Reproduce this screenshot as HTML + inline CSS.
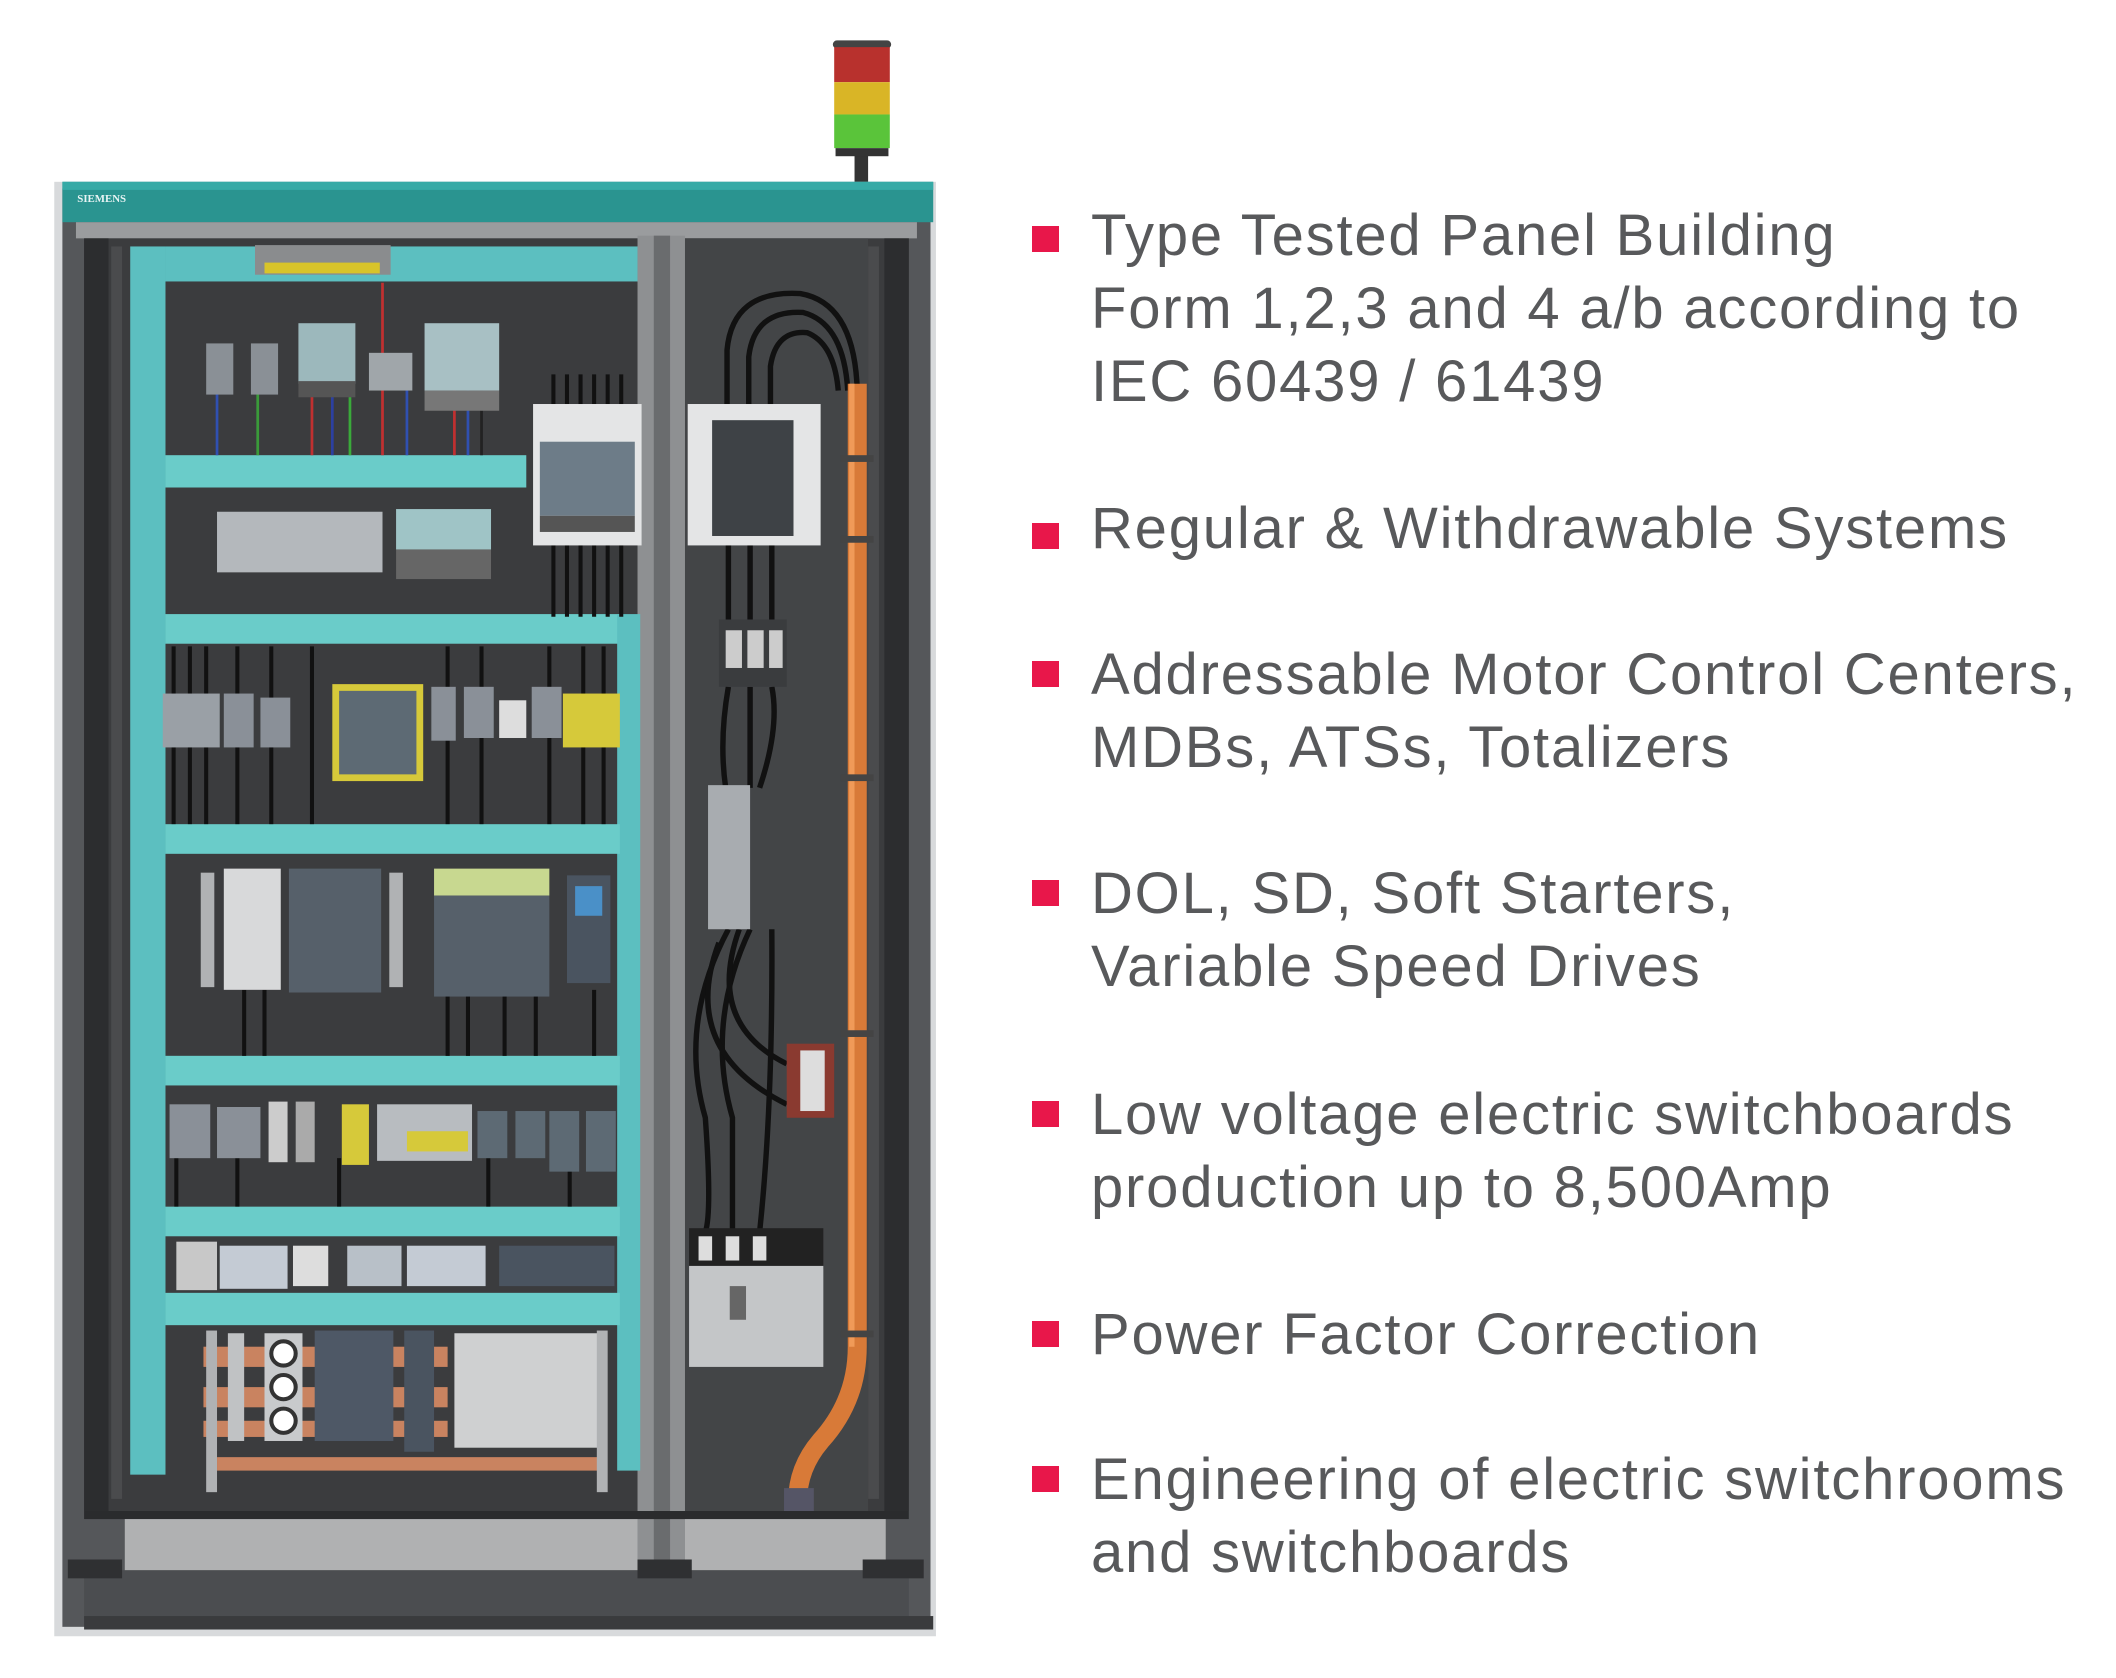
<!DOCTYPE html>
<html><head><meta charset="utf-8"><style>
html,body{margin:0;padding:0;background:#fff;}
body{width:2116px;height:1678px;position:relative;overflow:hidden;font-family:"Liberation Sans",sans-serif;}
svg{position:absolute;left:0;top:0;}
.b{position:absolute;left:1032px;width:27px;height:26px;background:#e8174a;}
.t{position:absolute;left:1091px;font-size:58px;color:#58595b;line-height:73px;white-space:nowrap;letter-spacing:1.8px;}
</style></head><body>
<svg width="2116" height="1678" viewBox="0 0 1560 1246" preserveAspectRatio="none">
<rect x="630" y="112" width="10" height="24" fill="#333"/>
<rect x="614" y="30" width="43" height="6" rx="3" fill="#444"/>
<rect x="615" y="35" width="41" height="26" fill="#b8312d"/>
<rect x="615" y="61" width="41" height="24" fill="#d9b526"/>
<rect x="615" y="85" width="41" height="25" fill="#5ac43a"/>
<rect x="616" y="110" width="39" height="6" fill="#333"/>
<rect x="40" y="135" width="650" height="1080" fill="#d8dadc"/>
<rect x="46" y="140" width="640" height="1068" fill="#55575a"/>
<rect x="46" y="135" width="642" height="30" fill="#2a9490"/>
<rect x="46" y="135" width="642" height="6" fill="#36aaa6"/>
<text x="57" y="150" font-size="8" fill="#e8f4f4" font-family="Liberation Serif" font-weight="bold">SIEMENS</text>
<rect x="56" y="165" width="620" height="12" fill="#9a9c9e"/>
<rect x="62" y="177" width="608" height="945" fill="#3b3c3e"/>
<rect x="62" y="177" width="18" height="945" fill="#2c2d2f"/>
<rect x="652" y="177" width="18" height="945" fill="#2c2d2f"/>
<rect x="82" y="183" width="8" height="930" fill="#4a4b4d"/>
<rect x="640" y="183" width="8" height="930" fill="#4a4b4d"/>
<rect x="470" y="175" width="35" height="990" fill="#8e9092"/>
<rect x="482" y="175" width="12" height="990" fill="#6a6c6e"/>
<rect x="505" y="177" width="135" height="945" fill="#434547"/>
<rect x="96" y="183" width="26" height="912" fill="#5cbfc0"/>
<rect x="122" y="183" width="348" height="26" fill="#5cbfc0"/>
<rect x="122" y="338" width="266" height="24" fill="#6accc9"/>
<rect x="122" y="456" width="335" height="22" fill="#6accc9"/>
<rect x="455" y="456" width="17" height="636" fill="#5cbfc0"/>
<rect x="122" y="612" width="335" height="22" fill="#6accc9"/>
<rect x="122" y="784" width="335" height="22" fill="#6accc9"/>
<rect x="122" y="896" width="335" height="22" fill="#6accc9"/>
<rect x="122" y="960" width="335" height="24" fill="#6accc9"/>
<rect x="188" y="182" width="100" height="22" fill="#8a8c8e"/>
<rect x="195" y="195" width="85" height="8" fill="#d8c42a"/>
<g stroke-width="2">
<line x1="160" y1="290" x2="160" y2="338" stroke="#3050b0"/><line x1="190" y1="290" x2="190" y2="338" stroke="#3a9a3a"/>
<line x1="230" y1="285" x2="230" y2="338" stroke="#c03030"/><line x1="245" y1="285" x2="245" y2="338" stroke="#2c40a0"/>
<line x1="258" y1="285" x2="258" y2="338" stroke="#3aaa3a"/><line x1="282" y1="210" x2="282" y2="338" stroke="#c03030"/>
<line x1="300" y1="285" x2="300" y2="338" stroke="#3050b0"/><line x1="335" y1="290" x2="335" y2="338" stroke="#c03030"/>
<line x1="345" y1="290" x2="345" y2="338" stroke="#3050b0"/><line x1="355" y1="290" x2="355" y2="338" stroke="#222"/>
</g>
<rect x="152" y="255" width="20" height="38" fill="#8a9096"/>
<rect x="185" y="255" width="20" height="38" fill="#8a9096"/>
<rect x="220" y="240" width="42" height="45" fill="#9cb8bc"/>
<rect x="220" y="283" width="42" height="12" fill="#555"/>
<rect x="272" y="262" width="32" height="28" fill="#a0a6aa"/>
<rect x="313" y="240" width="55" height="50" fill="#a8c0c4"/>
<rect x="313" y="290" width="55" height="15" fill="#777"/>
<rect x="160" y="380" width="122" height="45" fill="#b4b8bc"/>
<rect x="292" y="378" width="70" height="30" fill="#9fc4c6"/>
<rect x="292" y="408" width="70" height="22" fill="#666"/>
<g stroke="#111" stroke-width="3">
<line x1="408" y1="278" x2="408" y2="458"/><line x1="418" y1="278" x2="418" y2="458"/><line x1="428" y1="278" x2="428" y2="458"/>
<line x1="438" y1="278" x2="438" y2="458"/><line x1="448" y1="278" x2="448" y2="458"/><line x1="458" y1="278" x2="458" y2="458"/>
</g>
<rect x="393" y="300" width="80" height="105" fill="#e4e5e6"/>
<rect x="398" y="328" width="70" height="55" fill="#6d7c88"/>
<rect x="398" y="383" width="70" height="12" fill="#555"/>
<g stroke="#111" stroke-width="3">
<line x1="128" y1="480" x2="128" y2="612"/><line x1="140" y1="480" x2="140" y2="612"/><line x1="152" y1="480" x2="152" y2="612"/>
<line x1="175" y1="480" x2="175" y2="612"/><line x1="200" y1="480" x2="200" y2="612"/><line x1="230" y1="480" x2="230" y2="612"/>
<line x1="330" y1="480" x2="330" y2="612"/><line x1="355" y1="480" x2="355" y2="612"/><line x1="405" y1="480" x2="405" y2="612"/>
<line x1="430" y1="480" x2="430" y2="612"/><line x1="445" y1="480" x2="445" y2="612"/>
</g>
<rect x="120" y="515" width="42" height="40" fill="#9aa0a6"/>
<rect x="165" y="515" width="22" height="40" fill="#8a9098"/>
<rect x="192" y="518" width="22" height="37" fill="#8a9098"/>
<rect x="245" y="508" width="67" height="72" fill="#d6c93a"/>
<rect x="250" y="513" width="57" height="62" fill="#5d6a74"/>
<rect x="318" y="510" width="18" height="40" fill="#8a9098"/>
<rect x="342" y="510" width="22" height="38" fill="#8a9098"/>
<rect x="368" y="520" width="20" height="28" fill="#ddd"/>
<rect x="392" y="510" width="22" height="38" fill="#8a9098"/>
<rect x="415" y="515" width="42" height="40" fill="#d6c93a"/>
<g stroke="#111" stroke-width="3">
<line x1="180" y1="735" x2="180" y2="784"/><line x1="195" y1="735" x2="195" y2="784"/><line x1="330" y1="735" x2="330" y2="784"/>
<line x1="345" y1="735" x2="345" y2="784"/><line x1="372" y1="735" x2="372" y2="784"/><line x1="395" y1="735" x2="395" y2="784"/><line x1="438" y1="735" x2="438" y2="784"/>
</g>
<rect x="148" y="648" width="10" height="85" fill="#b0b2b4"/>
<rect x="165" y="645" width="42" height="90" fill="#d8d9da"/>
<rect x="213" y="645" width="68" height="92" fill="#56606a"/>
<rect x="287" y="648" width="10" height="85" fill="#b0b2b4"/>
<rect x="320" y="645" width="85" height="20" fill="#c8d890"/>
<rect x="320" y="665" width="85" height="75" fill="#56606a"/>
<rect x="418" y="650" width="32" height="80" fill="#4a5460"/>
<rect x="424" y="658" width="20" height="22" fill="#4a90c8"/>
<g stroke="#111" stroke-width="3">
<line x1="130" y1="860" x2="130" y2="896"/><line x1="175" y1="860" x2="175" y2="896"/><line x1="250" y1="860" x2="250" y2="896"/>
<line x1="360" y1="860" x2="360" y2="896"/><line x1="420" y1="860" x2="420" y2="896"/>
</g>
<rect x="125" y="820" width="30" height="40" fill="#8a9098"/>
<rect x="160" y="822" width="32" height="38" fill="#8a9098"/>
<rect x="198" y="818" width="14" height="45" fill="#ccc"/>
<rect x="218" y="818" width="14" height="45" fill="#aaa"/>
<rect x="252" y="820" width="20" height="45" fill="#d6c93a"/>
<rect x="278" y="820" width="70" height="42" fill="#b8bcc0"/>
<rect x="300" y="840" width="45" height="15" fill="#d6c93a"/>
<rect x="352" y="825" width="22" height="35" fill="#5d6a74"/>
<rect x="380" y="825" width="22" height="35" fill="#5d6a74"/>
<rect x="405" y="825" width="22" height="45" fill="#5d6a74"/>
<rect x="432" y="825" width="22" height="45" fill="#5d6a74"/>
<rect x="130" y="922" width="30" height="36" fill="#c8c8c8"/>
<rect x="162" y="925" width="50" height="32" fill="#c4cbd4"/>
<rect x="216" y="925" width="26" height="30" fill="#ddd"/>
<rect x="256" y="925" width="40" height="30" fill="#b8c0c8"/>
<rect x="300" y="925" width="58" height="30" fill="#c4cbd4"/>
<rect x="368" y="925" width="85" height="30" fill="#4a5460"/>
<rect x="150" y="1000" width="180" height="15" fill="#c98360"/>
<rect x="150" y="1030" width="180" height="15" fill="#c98360"/>
<rect x="150" y="1055" width="180" height="12" fill="#c98360"/>
<rect x="152" y="988" width="8" height="120" fill="#b0b2b4"/>
<rect x="168" y="990" width="12" height="80" fill="#c0c2c4"/>
<rect x="195" y="990" width="28" height="80" fill="#c8cacc"/>
<circle cx="209" cy="1005" r="9" fill="#fff" stroke="#333" stroke-width="3"/>
<circle cx="209" cy="1030" r="9" fill="#fff" stroke="#333" stroke-width="3"/>
<circle cx="209" cy="1055" r="9" fill="#fff" stroke="#333" stroke-width="3"/>
<rect x="232" y="988" width="58" height="82" fill="#4e5866"/>
<rect x="298" y="988" width="22" height="90" fill="#4a5460"/>
<rect x="335" y="990" width="110" height="85" fill="#cfd0d1"/>
<rect x="160" y="1082" width="285" height="10" fill="#c98360"/>
<rect x="440" y="988" width="8" height="120" fill="#b0b2b4"/>
<g fill="none" stroke="#111" stroke-width="4">
<path d="M536 330 V260 Q540 215 590 218 Q630 225 632 290"/>
<path d="M552 330 V265 Q556 230 592 232 Q622 240 625 290"/>
<path d="M568 330 V272 Q572 245 595 247 Q615 255 618 290"/>
<path d="M537 398 V460"/><path d="M553 398 V460"/><path d="M569 398 V460"/>
<path d="M537 510 Q530 550 535 585"/><path d="M553 510 V585"/><path d="M569 510 Q575 540 560 585"/>
<path d="M537 690 Q500 760 520 830 Q525 900 520 915"/><path d="M553 690 Q520 760 540 830 V915"/><path d="M545 690 Q520 760 580 790"/><path d="M530 700 Q500 780 580 820"/><path d="M569 690 Q570 820 560 915"/>
</g>
<rect x="507" y="300" width="98" height="105" fill="#e4e5e6"/>
<rect x="525" y="312" width="60" height="86" fill="#3e4246"/>
<rect x="530" y="460" width="50" height="50" fill="#3a3c3e"/>
<rect x="535" y="468" width="12" height="28" fill="#ccc"/><rect x="551" y="468" width="12" height="28" fill="#ccc"/><rect x="567" y="468" width="10" height="28" fill="#ccc"/>
<rect x="522" y="583" width="31" height="107" fill="#a8acb0"/>
<rect x="580" y="775" width="35" height="55" fill="#8a3a30"/>
<rect x="590" y="780" width="18" height="45" fill="#ddd"/>
<rect x="508" y="912" width="99" height="30" fill="#222"/>
<rect x="515" y="918" width="10" height="18" fill="#ddd"/><rect x="535" y="918" width="10" height="18" fill="#ddd"/><rect x="555" y="918" width="10" height="18" fill="#ddd"/>
<rect x="508" y="940" width="99" height="75" fill="#c4c6c8"/>
<rect x="538" y="955" width="12" height="25" fill="#666"/>
<path d="M632 285 V1000 Q632 1040 605 1070 Q588 1090 588 1115" fill="none" stroke="#d87a38" stroke-width="14"/>
<path d="M628 285 V1000" fill="none" stroke="#f09a58" stroke-width="4"/>
<rect x="620" y="338" width="24" height="5" fill="#444"/><rect x="620" y="398" width="24" height="5" fill="#444"/>
<rect x="620" y="575" width="24" height="5" fill="#444"/><rect x="620" y="765" width="24" height="5" fill="#444"/>
<rect x="620" y="988" width="24" height="5" fill="#444"/>
<rect x="578" y="1105" width="22" height="20" fill="#556"/>
<rect x="62" y="1122" width="608" height="6" fill="#2a2b2d"/>
<rect x="92" y="1128" width="378" height="38" fill="#b0b1b2"/>
<rect x="505" y="1128" width="148" height="38" fill="#b0b1b2"/>
<rect x="62" y="1166" width="608" height="36" fill="#4b4d50"/>
<rect x="62" y="1200" width="626" height="10" fill="#3a3b3d"/>
<rect x="50" y="1158" width="40" height="14" fill="#2f3032"/>
<rect x="470" y="1158" width="40" height="14" fill="#2f3032"/>
<rect x="636" y="1158" width="45" height="14" fill="#2f3032"/>
</svg>
<div class="b" style="top:226px"></div>
<div class="t" style="top:199px">Type Tested Panel Building</div>
<div class="t" style="top:272px">Form 1,2,3 and 4 a/b according to</div>
<div class="t" style="top:345px">IEC 60439 / 61439</div>
<div class="b" style="top:523px"></div>
<div class="t" style="top:492px">Regular &amp; Withdrawable Systems</div>
<div class="b" style="top:661px"></div>
<div class="t" style="top:638px">Addressable Motor Control Centers,</div>
<div class="t" style="top:711px">MDBs, ATSs, Totalizers</div>
<div class="b" style="top:880px"></div>
<div class="t" style="top:857px">DOL, SD, Soft Starters,</div>
<div class="t" style="top:930px">Variable Speed Drives</div>
<div class="b" style="top:1101px"></div>
<div class="t" style="top:1078px">Low voltage electric switchboards</div>
<div class="t" style="top:1151px">production up to 8,500Amp</div>
<div class="b" style="top:1321px"></div>
<div class="t" style="top:1298px">Power Factor Correction</div>
<div class="b" style="top:1466px"></div>
<div class="t" style="top:1443px">Engineering of electric switchrooms</div>
<div class="t" style="top:1516px">and switchboards</div>
</body></html>
